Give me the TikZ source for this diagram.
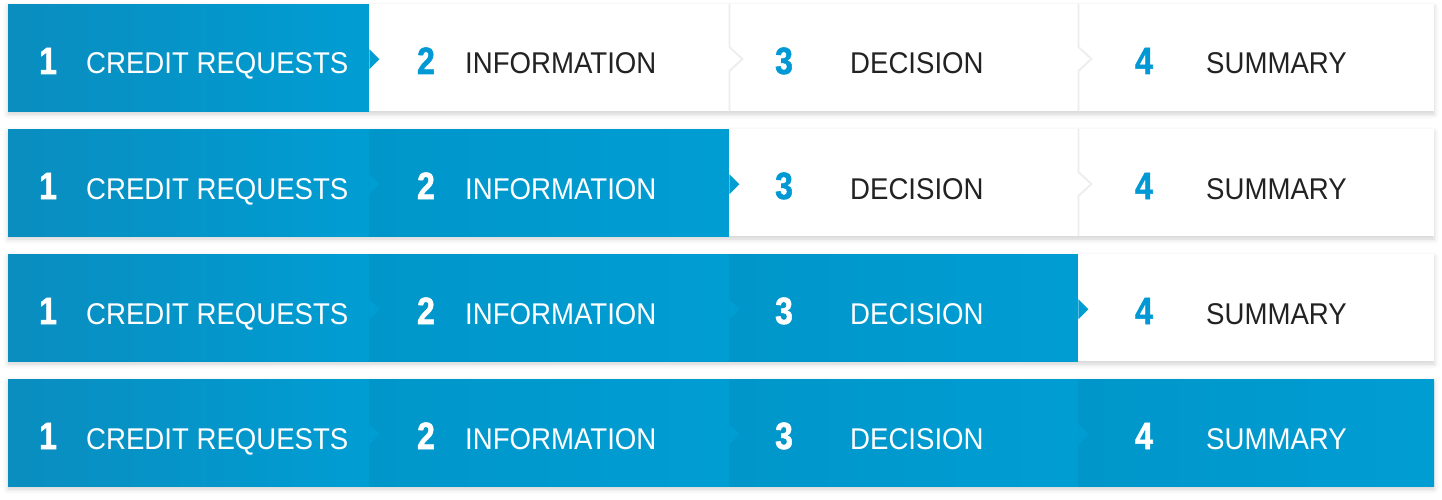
\documentclass[tikz,border=0pt]{standalone}
\usepackage{fontspec}
\setmainfont{Liberation Sans}
\newfontfamily\labelfont[FakeStretch=0.92]{Liberation Sans}
\newfontfamily\numfont[FakeStretch=0.84,FakeBold=1.4]{Liberation Sans Bold}
\usetikzlibrary{shadows.blur}
\definecolor{bluedark}{HTML}{0A8DBF}
\definecolor{bluemid}{HTML}{0096CA}
\definecolor{bluelight}{HTML}{009DD3}
\definecolor{bluenum}{HTML}{0099D5}
\definecolor{greytext}{HTML}{222222}
\definecolor{greyline}{HTML}{EDEDED}
\tikzstyle{row}=[fill=white,blur shadow={shadow xshift=0pt,shadow yshift=-3pt,shadow blur radius=5pt,shadow opacity=18}]
\tikzstyle{stepdone}=[rectangle,inner sep=0pt,anchor=north west,minimum height=107pt,right color=bluelight]
\tikzstyle{stepopen}=[rectangle,inner sep=0pt,anchor=north west,minimum height=107pt,fill=white]
\tikzstyle{tip}=[fill=bluelight]
\tikzstyle{divider}=[draw=greyline,line width=1.8pt]
\tikzstyle{numtext}=[anchor=base,inner sep=0pt,font=\numfont\fontsize{38}{38}\selectfont]
\tikzstyle{labeltext}=[anchor=base west,inner sep=0pt,font=\labelfont\fontsize{30}{30}\selectfont]

\begin{document}
\begin{tikzpicture}[x=1pt,y=-1pt]
\useasboundingbox (0,0) rectangle (1442,500);
\foreach \r in {0,...,3} {
  \pgfmathsetmacro\rowtop{4+125*\r}
  \fill[row] (8,\rowtop) rectangle (1434,\rowtop+107);
  % segments with number and label
  \foreach \k/\xa/\xb/\xn/\xl/\shade/\lab in {1/8/369/48/86/bluedark/CREDIT REQUESTS,2/369/729/426/465/bluemid/INFORMATION,3/729/1078/784/850/bluemid/DECISION,4/1078/1434/1144/1206/bluemid/SUMMARY} {
    \pgfmathsetmacro\w{\xb-\xa}
    \ifnum\k>\numexpr\r+1\relax
      \node[stepopen,minimum width=\w pt] (s\r\k) at (\xa,\rowtop) {};
      \node[numtext,text=bluenum] (n\r\k) at (\xn,\rowtop+70) {\k};
      \node[labeltext,text=greytext] (l\r\k) at (\xl,\rowtop+70) {\lab};
    \else
      \node[stepdone,left color=\shade,minimum width=\w pt] (s\r\k) at (\xa,\rowtop) {};
      \node[numtext,text=white] (n\r\k) at (\xn,\rowtop+70) {\k};
      \node[labeltext,text=white] (l\r\k) at (\xl,\rowtop+70) {\lab};
    \fi
  }
  % tips and dividers
  \foreach \k in {1,2,3} {
    \ifnum\k>\numexpr\r+1\relax
      \draw[divider] (s\r\k.north east) -- ++(0,43) -- ++(13,12) -- ++(-13,12) -- (s\r\k.south east);
    \else
      \fill[tip] (s\r\k.east) ++(0,-8.5) -- ++(10,10) -- ++(-10,10) -- cycle;
    \fi
  }
}
\end{tikzpicture}
\end{document}
